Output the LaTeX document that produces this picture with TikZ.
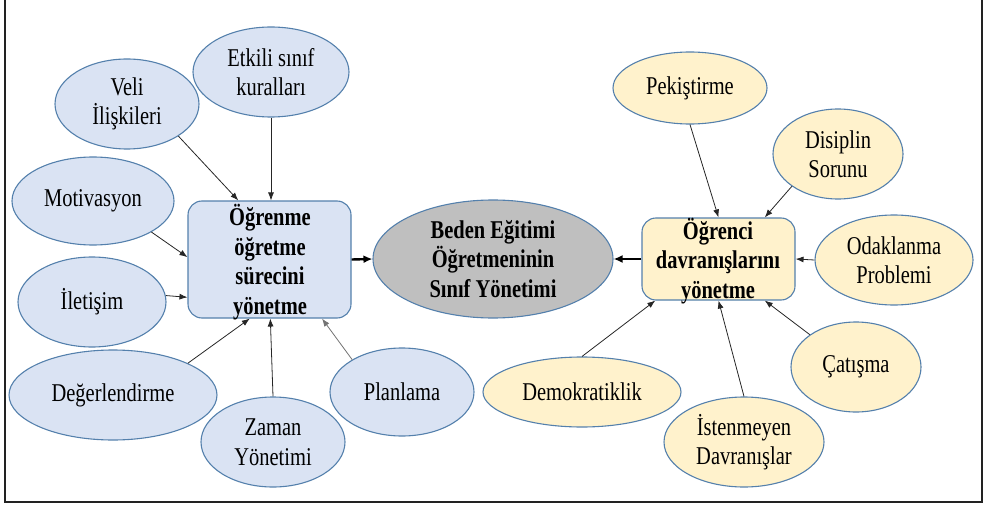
\documentclass[tikz,border=0pt]{standalone}
\usepackage{fontspec}
\setmainfont{Liberation Serif}[FakeStretch=0.8]
\usetikzlibrary{shapes.geometric,arrows.meta,calc}
\definecolor{edgeblue}{RGB}{84,128,172}
\definecolor{fillblue}{RGB}{218,227,243}
\definecolor{fillyel}{RGB}{255,242,204}
\definecolor{fillgrey}{RGB}{191,191,191}
\definecolor{framecol}{RGB}{34,34,34}
\tikzset{
  txt/.style={font=\fontsize{25.6}{29.5}\selectfont, align=center, text=black},
  bell/.style={txt, ellipse, draw=edgeblue, line width=1.1pt, fill=fillblue, inner sep=0pt},
  yell/.style={txt, ellipse, draw=edgeblue, line width=1.1pt, fill=fillyel, inner sep=0pt},
  mainbox/.style={txt, font=\fontsize{25.6}{29.5}\selectfont\bfseries, rectangle, rounded corners=14pt, draw=edgeblue, line width=1.1pt, inner sep=0pt},
  conn/.style={draw=black!85, line width=0.8pt, -{Latex[length=8pt,width=6pt]}},
  thickconn/.style={draw=black, line width=2.4pt, -{Latex[length=9pt,width=8pt]}},
}
\begin{document}
\begin{tikzpicture}[x=1pt,y=-1pt]
\useasboundingbox (0,0) rectangle (987,505);
% frame
\draw[framecol, line width=2pt] (5,-2) -- (5,502) -- (982,502) -- (982,-2);

% left box
\node[mainbox, fill=fillblue, minimum width=163pt, minimum height=117pt] (L) at (269.5,259.5) {};
\node[txt, font=\fontsize{25.6}{29.5}\selectfont\bfseries] (Lt) at (270,262) {Öğrenme\\öğretme\\sürecini\\yönetme};

% right box
\node[mainbox, fill=fillyel, minimum width=153pt, minimum height=82pt] (R) at (718.5,259) {};
\node[txt, font=\fontsize{25.6}{29.5}\selectfont\bfseries] (Rt) at (718,261) {Öğrenci\\davranışlarını\\yönetme};

% central
\node[txt, ellipse, draw=edgeblue, line width=1.1pt, fill=fillgrey, inner sep=0pt,
      minimum width=240pt, minimum height=118pt, font=\fontsize{25.6}{29.5}\selectfont\bfseries] (C) at (493,259) {Beden Eğitimi\\Öğretmeninin\\Sınıf Yönetimi};

% left satellites
\node[bell, minimum width=144pt, minimum height=90pt] (veli) at (127,104) {Veli\\İlişkileri};
\node[bell, minimum width=156pt, minimum height=90pt] (etkili) at (271,72) {Etkili sınıf\\kuralları};
\node[bell, minimum width=162pt, minimum height=88pt] (motiv) at (93,201) {Motivasyon};
\node[bell, minimum width=148pt, minimum height=90pt] (ilet) at (92,302) {İletişim};
\node[bell, minimum width=208pt, minimum height=90pt] (deger) at (113,395) {Değerlendirme};
\node[bell, minimum width=144pt, minimum height=90pt] (zaman) at (273,442) {Zaman\\Yönetimi};
\node[bell, minimum width=144pt, minimum height=88pt] (plan) at (402,392) {Planlama};

% right satellites
\node[yell, minimum width=154pt, minimum height=72pt] (pek) at (690,88) {Pekiştirme};
\node[yell, minimum width=130pt, minimum height=90pt] (disip) at (838,154) {Disiplin\\Sorunu};
\node[yell, minimum width=158pt, minimum height=90pt] (odak) at (894,260) {Odaklanma\\Problemi};
\node[yell, minimum width=130pt, minimum height=90pt] (catis) at (856,367) {Çatışma};
\node[yell, minimum width=160pt, minimum height=90pt] (isten) at (744,442) {İstenmeyen\\Davranışlar};
\node[yell, minimum width=198pt, minimum height=70pt] (demok) at (582,392) {Demokratiklik};

% left connectors
\draw[conn] (veli.-32) -- ($(L.north west)!0.31!(L.north east)$);
\draw[conn] (etkili.south) -- (etkili.south |- L.north);
\draw[conn] (motiv.-28) -- ($(L.north west)!0.48!(L.south west)$);
\draw[conn] (ilet.5) -- ($(L.north west)!0.82!(L.south west)$);
\draw[conn] (deger.23) -- ($(L.south west)!0.38!(L.south east)$);
\draw[conn] (zaman.north) -- ($(L.south west)!0.505!(L.south east)$);
\draw[conn, draw=black!55] (plan.147) -- ($(L.south west)!0.82!(L.south east)$);

% right connectors
\draw[conn] (pek.south) -- ($(R.north west)!0.5!(R.north east)$);
\draw[conn] (disip.-145) -- ($(R.north west)!0.8!(R.north east)$);
\draw[conn] (odak.west) -- (R.east);
\draw[conn] (catis.145) -- ($(R.south west)!0.8!(R.south east)$);
\draw[conn] (isten.north) -- ($(R.south west)!0.5!(R.south east)$);
\draw[conn] (demok.north) -- ($(R.south west)!0.09!(R.south east)$);

% central connectors
\draw[thickconn] (L.east) -- (C.west);
\draw[thickconn] (R.west) -- (C.east);
\end{tikzpicture}
\end{document}
